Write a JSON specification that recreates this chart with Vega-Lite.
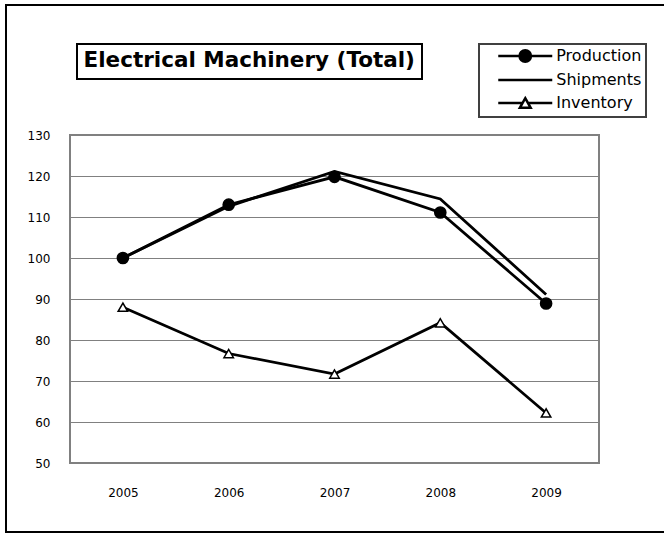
{
  "$schema": "https://vega.github.io/schema/vega-lite/v6.json",
  "width": 529,
  "height": 328,
  "autosize": {"type": "none"},
  "padding": {"left": 70, "top": 135, "right": 65, "bottom": 71},
  "background": "white",
  "config": {
    "font": "DejaVu Sans",
    "view": {"stroke": "#808080", "strokeWidth": 2},
    "axis": {"labelFont": "DejaVu Sans", "labelFontSize": 12, "labelColor": "black", "ticks": false, "domain": false, "title": null},
    "legend": {"labelFont": "DejaVu Sans", "labelColor": "black", "strokeWidth": 2}
  },
  "data": {
    "values": [
      {"year": "2005", "series": "Production", "value": 100},
      {"year": "2006", "series": "Production", "value": 113.0},
      {"year": "2007", "series": "Production", "value": 119.8},
      {"year": "2008", "series": "Production", "value": 111.1},
      {"year": "2009", "series": "Production", "value": 88.9},
      {"year": "2005", "series": "Shipments", "value": 100},
      {"year": "2006", "series": "Shipments", "value": 112.6},
      {"year": "2007", "series": "Shipments", "value": 121.1},
      {"year": "2008", "series": "Shipments", "value": 114.4},
      {"year": "2009", "series": "Shipments", "value": 91.1},
      {"year": "2005", "series": "Inventory", "value": 88.0},
      {"year": "2006", "series": "Inventory", "value": 76.7},
      {"year": "2007", "series": "Inventory", "value": 71.7},
      {"year": "2008", "series": "Inventory", "value": 84.2},
      {"year": "2009", "series": "Inventory", "value": 62.2}
    ]
  },
  "encoding": {
    "x": {"field": "year", "type": "ordinal", "scale": {"type": "point", "padding": 0.5}, "axis": {"labelAngle": 0, "labelPadding": 24, "grid": false}},
    "y": {"field": "value", "type": "quantitative", "scale": {"domain": [50, 130], "nice": false, "zero": false}, "axis": {"values": [50, 60, 70, 80, 90, 100, 110, 120, 130], "grid": true, "gridColor": "#808080", "gridWidth": 1, "labelPadding": 20}}
  },
  "resolve": {"scale": {"shape": "independent", "fill": "independent", "size": "independent", "stroke": "independent"}},
  "layer": [
    {
      "mark": {"type": "line", "strokeWidth": 2.8, "stroke": "black"},
      "encoding": {"detail": {"field": "series", "type": "nominal"}}
    },
    {
      "transform": [{"filter": "datum.series !== 'Shipments'"}],
      "mark": {"type": "point", "filled": true, "stroke": "black", "strokeWidth": 1.5, "opacity": 1},
      "encoding": {
        "shape": {"field": "series", "type": "nominal", "scale": {"domain": ["Production", "Inventory"], "range": ["circle", "triangle-up"]}, "legend": null},
        "fill": {"field": "series", "type": "nominal", "scale": {"domain": ["Production", "Inventory"], "range": ["black", "white"]}, "legend": null},
        "size": {"field": "series", "type": "nominal", "scale": {"domain": ["Production", "Inventory"], "range": [125, 90]}, "legend": null}
      }
    },
    {
      "mark": {"type": "point", "filled": false, "opacity": 0},
      "encoding": {
        "shape": {
          "field": "series", "type": "nominal",
          "scale": {"domain": ["Production", "Shipments", "Inventory"], "range": [
            "M-4.5,0H4.5M-0.95,0A0.95,0.95,0,1,0,0.95,0A0.95,0.95,0,1,0,-0.95,0Z",
            "M-4.5,0H4.5",
            "M-4.5,0H-0.45M0.45,0H4.5M0,-0.8L0.9,0.8L-0.9,0.8Z"
          ]},
          "legend": {
            "orient": "none", "legendX": 409, "legendY": -91, "direction": "vertical",
            "title": null, "labelFontSize": 16, "labelLimit": 0,
            "symbolSize": 144, "symbolStrokeWidth": 2.5, "symbolOpacity": 1,
            "symbolOffset": 34.25, "labelOffset": 23,
            "rowPadding": 5, "padding": 4, "strokeColor": "#404040",
            "encode": {"legend": {"strokeWidth": {"value": 1}}}
          }
        },
        "fill": {
          "field": "series", "type": "nominal",
          "scale": {"domain": ["Production", "Shipments", "Inventory"], "range": ["black", "transparent", "white"]},
          "legend": {
            "orient": "none", "legendX": 409, "legendY": -91, "direction": "vertical",
            "title": null, "labelFontSize": 16, "labelLimit": 0,
            "symbolSize": 144, "symbolStrokeWidth": 2.5, "symbolOpacity": 1,
            "symbolOffset": 34.25, "labelOffset": 23,
            "rowPadding": 5, "padding": 4, "strokeColor": "#404040",
            "encode": {"legend": {"strokeWidth": {"value": 1}}}
          }
        },
        "stroke": {
          "field": "series", "type": "nominal",
          "scale": {"domain": ["Production", "Shipments", "Inventory"], "range": ["black", "black", "black"]},
          "legend": {
            "orient": "none", "legendX": 409, "legendY": -91, "direction": "vertical",
            "title": null, "labelFontSize": 16, "labelLimit": 0,
            "symbolSize": 144, "symbolStrokeWidth": 2.5, "symbolOpacity": 1,
            "symbolOffset": 34.25, "labelOffset": 23,
            "rowPadding": 5, "padding": 4, "strokeColor": "#404040",
            "encode": {"legend": {"strokeWidth": {"value": 1}}}
          }
        }
      }
    },
    {
      "mark": {"type": "text", "text": ""},
      "encoding": {
        "opacity": {
          "field": "year", "type": "ordinal",
          "legend": {
            "orient": "none", "legendX": 7, "legendY": -91, "title": null, "values": ["2005"],
            "labelExpr": "'Electrical Machinery (Total)'",
            "labelFontSize": 21.5, "labelFontWeight": "bold", "labelLimit": 0,
            "symbolSize": 0, "symbolStrokeWidth": 0, "labelOffset": -21.5,
            "padding": 6.5, "strokeColor": "black"
          }
        },
        "size": {
          "field": "value", "type": "quantitative",
          "legend": {
            "orient": "none", "legendX": -64, "legendY": -130, "title": null, "values": [100],
            "labelExpr": "'                                                            '",
            "labelFontSize": 10, "labelLimit": 0,
            "symbolOpacity": 0, "symbolStrokeWidth": 0, "labelOffset": 160,
            "padding": 258.5, "strokeColor": "black",
            "encode": {"legend": {"strokeWidth": {"value": 3}}}
          }
        }
      }
    }
  ]
}
